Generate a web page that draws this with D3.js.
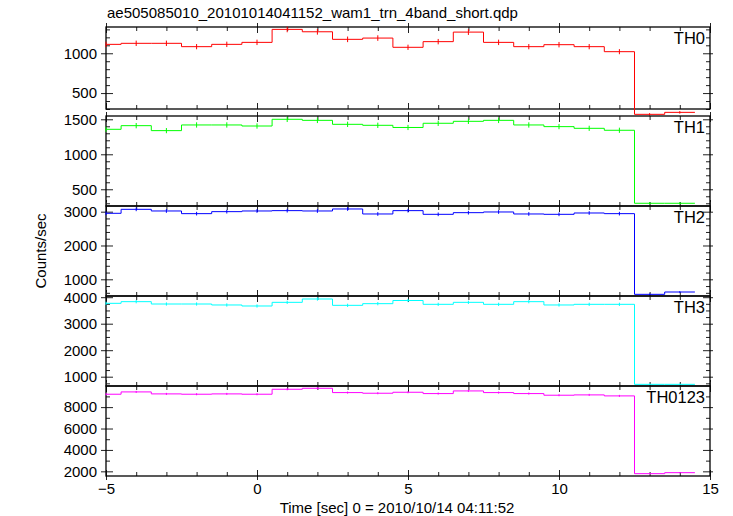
<!DOCTYPE html>
<html>
<head>
<meta charset="utf-8">
<script src="https://cdn.jsdelivr.net/npm/d3@7/dist/d3.min.js"></script>
<style>
  html, body { margin: 0; padding: 0; background: #fff; }
  svg { display: block; }
  text { font-family: "Liberation Sans", Helvetica, Arial, sans-serif; fill: #000; }
</style>
</head>
<body>
<svg id="chart" width="733" height="516"></svg>
<script>
// ---- data ----
const chartTitle = "ae505085010_20101014041152_wam1_trn_4band_short.qdp";
const xLabel = "Time [sec] 0 = 2010/10/14 04:11:52";
const yLabel = "Counts/sec";
const timeBins = [-5,-4,-3,-2,-1,0,1,2,3,4,5,6,7,8,9,10,11,12,13,14];
const th0 = [1112,1125,1125,1083,1112,1137,1300,1270,1175,1191,1075,1146,1266,1137,1083,1108,1083,1020,233,258];
const th0Err = [34,34,34,33,34,34,36,36,35,35,33,34,36,34,33,34,33,32,15,16];
const th1 = [1357,1409,1338,1419,1419,1404,1500,1485,1428,1414,1383,1443,1471,1485,1419,1395,1371,1343,300,300];
const th1Err = [37,38,37,38,38,38,39,39,38,38,37,38,38,39,38,37,37,37,17,17];
const th2 = [2952,3070,3021,2942,3001,3021,3031,3021,3080,2932,3031,2922,2971,2991,2932,2922,2961,2942,555,624];
const th2Err = [54,55,55,54,55,55,55,55,55,54,55,54,55,55,54,54,54,54,24,25];
const th3 = [3769,3831,3743,3743,3706,3668,3806,3932,3693,3756,3875,3731,3806,3731,3831,3706,3731,3731,712,712];
const th3Err = [61,62,61,61,61,61,62,63,61,61,62,61,62,61,62,61,61,61,27,27];
const th0123 = [9203,9419,9234,9203,9234,9203,9667,9760,9357,9296,9388,9264,9512,9357,9264,9110,9141,9048,1782,1875];
const th0123Err = [96,97,96,96,96,96,98,99,97,96,97,96,97,97,96,95,96,95,42,43];
const panelNames = ["TH0","TH1","TH2","TH3","TH0123"];
const panelColors = ["#ff0000","#00ff00","#0000ff","#00ffff","#ff00ff"];
const xMajorTicks = [-5,0,5,10,15];
const xTickLabels = ["\u22125","0","5","10","15"];
const yMajorTicks = [[500,1000],[500,1000,1500],[1000,2000,3000],[1000,2000,3000,4000],[2000,4000,6000,8000]];
const yMinorStep = [100,100,200,250,1000];
const yDomains = [[300,1330],[261,1547],[506,3168],[649,4045],[1565,9972]];
const binHalfWidth = 0.5;

// ---- layout ----
const left = 106, right = 710;
const panelTops = [27,116,206,296,386];
const panelBottoms = [109,206,296,386,476];
const svg = d3.select("#chart");
const x = d3.scaleLinear().domain([-5,15]).range([left,right]);

const series = [th0, th1, th2, th3, th0123];
const errs = [th0Err, th1Err, th2Err, th3Err, th0123Err];

svg.append("text").attr("x", 107).attr("y", 18).attr("font-size", 15).text(chartTitle);

series.forEach((vals, i) => {
  const top = panelTops[i], bot = panelBottoms[i];
  const y = d3.scaleLinear().domain(yDomains[i]).range([bot, top]);
  const g = svg.append("g");
  const dom = yDomains[i];
  const minors = d3.range(Math.ceil(dom[0]/yMinorStep[i])*yMinorStep[i], dom[1], yMinorStep[i])
     .filter(v => !yMajorTicks[i].includes(v));
  const xMinors = d3.range(-5, 15.001, 1).filter(v => !xMajorTicks.includes(v));

  function addAxis(axis, tx, ty, labels) {
    const a = g.append("g").attr("transform", `translate(${tx},${ty})`).call(axis);
    a.select(".domain").remove();
    a.selectAll(".tick line").attr("stroke", "#222").attr("stroke-width", 1);
    if (!labels) a.selectAll(".tick text").remove();
    return a;
  }
  // left axis
  const la = addAxis(d3.axisLeft(y).tickValues(yMajorTicks[i]).tickSize(5).tickPadding(4).tickFormat(d3.format("d")), left, 0, true);
  la.selectAll(".tick text").attr("font-size", 15).attr("font-family", '"Liberation Sans", Helvetica, Arial, sans-serif').attr("fill", "#000");
  addAxis(d3.axisLeft(y).tickValues(yMajorTicks[i]).tickSize(-7), left, 0, false);
  addAxis(d3.axisLeft(y).tickValues(minors).tickSize(-4), left, 0, false);
  // right axis
  addAxis(d3.axisRight(y).tickValues(yMajorTicks[i]).tickSize(3), right, 0, false);
  addAxis(d3.axisRight(y).tickValues(yMajorTicks[i]).tickSize(-7), right, 0, false);
  addAxis(d3.axisRight(y).tickValues(minors).tickSize(-4), right, 0, false);
  // top / bottom x ticks
  addAxis(d3.axisTop(x).tickValues(xMajorTicks).tickSize(-6), 0, top, false);
  addAxis(d3.axisTop(x).tickValues(xMajorTicks).tickSize(4), 0, top, false);
  addAxis(d3.axisTop(x).tickValues(xMinors).tickSize(-4), 0, top, false);
  addAxis(d3.axisBottom(x).tickValues(xMajorTicks).tickSize(-6), 0, bot, false);
  addAxis(d3.axisBottom(x).tickValues(xMinors).tickSize(-4), 0, bot, false);
  if (i === series.length - 1) {
    const ba = addAxis(d3.axisBottom(x).tickValues(xMajorTicks).tickSize(4).tickPadding(3)
        .tickFormat((d, k) => xTickLabels[k]), 0, bot, true);
    ba.selectAll(".tick text").attr("font-size", 15).attr("font-family", '"Liberation Sans", Helvetica, Arial, sans-serif').attr("fill", "#000");
  }
  // frame
  g.append("rect").attr("x", left).attr("y", top).attr("width", right-left).attr("height", bot-top)
    .attr("fill", "none").attr("stroke", "#000").attr("stroke-width", 1.3);

  // step line
  const pts = [];
  timeBins.forEach((t, k) => {
    const x0 = Math.max(t - binHalfWidth, -5), x1 = Math.min(t + binHalfWidth, 15);
    pts.push([x(x0), y(vals[k])]);
    pts.push([x(x1), y(vals[k])]);
  });
  g.append("path").attr("d", d3.line()(pts)).attr("fill", "none")
    .attr("stroke", panelColors[i]).attr("stroke-width", 1);
  // error bars
  g.selectAll(".eb").data(timeBins).enter().append("line")
    .attr("x1", t => x(t)).attr("x2", t => x(t))
    .attr("y1", (t, k) => y(vals[k] - errs[i][k]))
    .attr("y2", (t, k) => y(vals[k] + errs[i][k]))
    .attr("stroke", panelColors[i]).attr("stroke-width", 1);

  g.append("text").attr("x", 705).attr("y", top + 17).attr("text-anchor", "end")
    .attr("font-size", 16.5).text(panelNames[i]);
});

svg.append("text").attr("x", 397).attr("y", 513).attr("text-anchor", "middle")
  .attr("font-size", 15).text(xLabel);
svg.append("text").attr("transform", "translate(46,251) rotate(-90)").attr("text-anchor", "middle")
  .attr("font-size", 15).text(yLabel);
</script>
</body>
</html>
